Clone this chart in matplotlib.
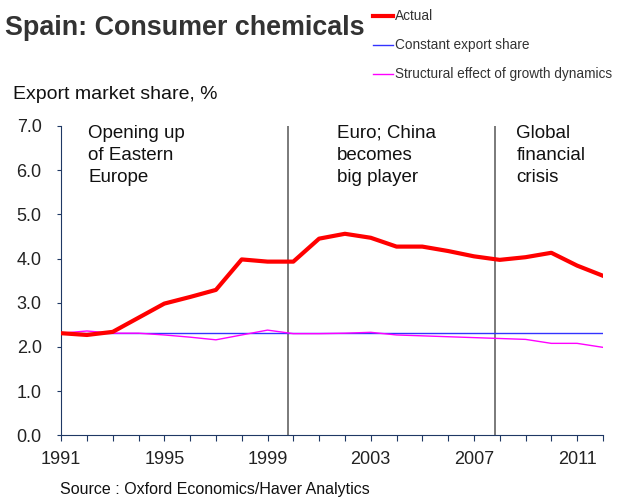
import numpy as np
import matplotlib.pyplot as plt

plt.rcParams['font.family'] = ['Liberation Sans', 'DejaVu Sans']

years = list(range(1991, 2013))
actual = [2.31, 2.27, 2.34, 2.66, 2.98, 3.13, 3.29, 3.98, 3.93, 3.93,
          4.45, 4.56, 4.47, 4.27, 4.27, 4.17, 4.05, 3.97, 4.03, 4.13,
          3.84, 3.61]
constant = [2.31] * 22
structural = [2.31, 2.36, 2.31, 2.31, 2.27, 2.22, 2.16, 2.27, 2.38, 2.30,
              2.30, 2.31, 2.33, 2.27, 2.25, 2.23, 2.21, 2.19, 2.17, 2.08,
              2.08, 1.99]
labels = ["Actual", "Constant export share", "Structural effect of growth dynamics"]
periods = ["Opening up\nof Eastern\nEurope", "Euro; China\nbecomes\nbig player",
           "Global\nfinancial\ncrisis"]
breaks = [1999.8, 2007.8]

fig = plt.figure(figsize=(6.3, 4.98), dpi=100)
ax = fig.add_axes([0.097, 0.126, 0.86, 0.621])

l1, = ax.plot(years, actual, color="#ff0000", lw=3, label=labels[0], zorder=4)
l2, = ax.plot(years, constant, color="#3333ff", lw=1, label=labels[1], zorder=3)
l3, = ax.plot(years, structural, color="#ff00ff", lw=1, label=labels[2], zorder=3)

for b in breaks:
    ax.axvline(b, color="#707070", lw=1.3, zorder=2)

ax.set_xlim(1991, 2012)
ax.set_ylim(0, 7)
ax.set_yticks(np.arange(0, 7.5, 1.0))
ax.set_yticklabels([f"{v:.1f}" for v in np.arange(0, 7.5, 1.0)])
ax.set_xticks(years)
ax.set_xticklabels([str(y) if (y - 1991) % 4 == 0 else "" for y in years])
ax.tick_params(axis="both", labelsize=13, direction="out", color="#1f3864",
               labelcolor="#222222")
ax.tick_params(axis="x", length=4, pad=7)
ax.tick_params(axis="y", length=3, pad=11)
for s in ["top", "right"]:
    ax.spines[s].set_visible(False)
for s in ["left", "bottom"]:
    ax.spines[s].set_color("#1f3864")

text_x = [1992.05, 2001.7, 2008.65]
for tx, p in zip(text_x, periods):
    ax.text(tx, 7.03, p, fontsize=13.5, va="top", ha="left", linespacing=1.4,
            color="#111111")

fig.text(0.008, 0.944, "Spain: Consumer chemicals", fontsize=19.4, fontweight="bold",
         va="center", ha="left", color="#333333")
fig.text(0.02, 0.81, "Export market share, %", fontsize=14, va="center", ha="left",
         color="#111111")
fig.text(0.095, 0.018, "Source : Oxford Economics/Haver Analytics", fontsize=11.5,
         va="center", ha="left", color="#111111")

fig.legend(handles=[l1, l2, l3], loc="upper left", bbox_to_anchor=(373 / 630, 0.981),
           frameon=False, fontsize=9.8, handlelength=1.47, handletextpad=0.15,
           labelspacing=1.1, borderaxespad=0, borderpad=0, labelcolor="#333333")

fig.savefig("out.png", dpi=100)
